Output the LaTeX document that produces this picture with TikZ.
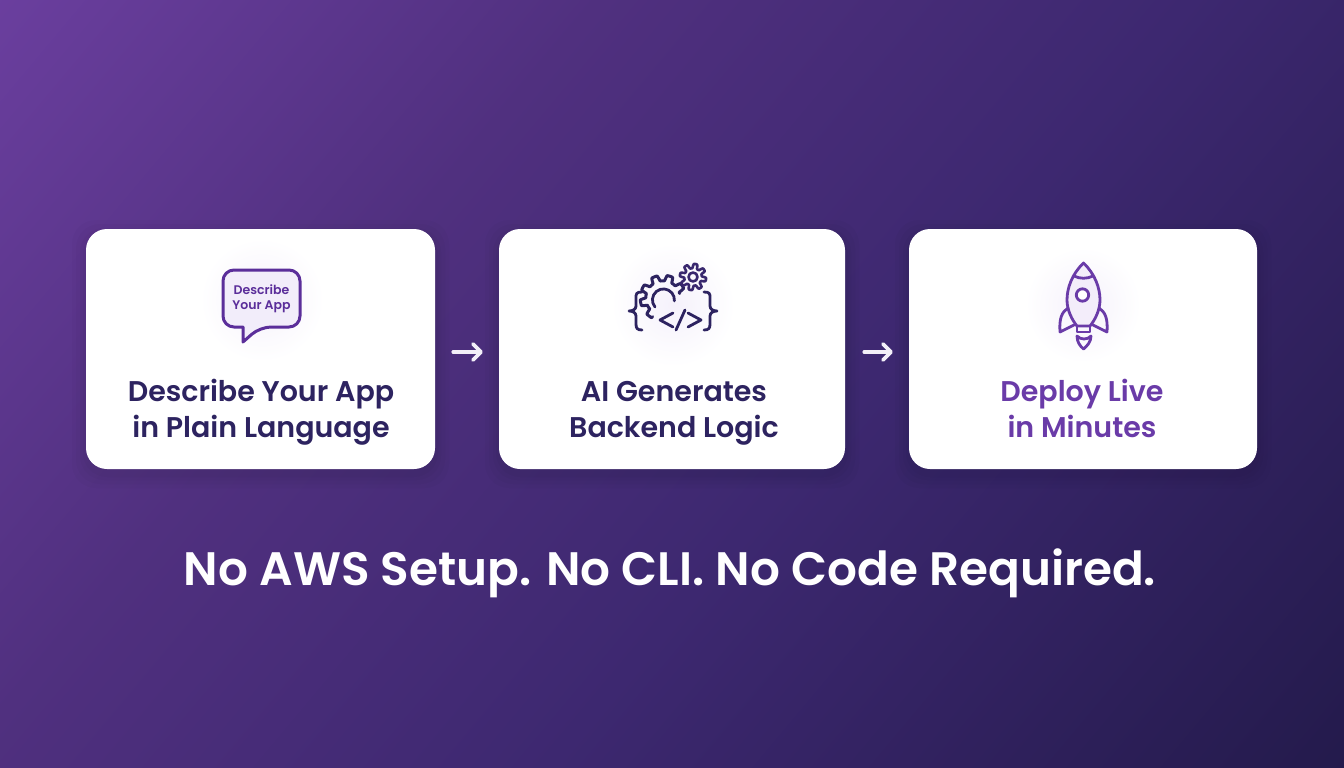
\documentclass[tikz,border=0pt]{standalone}
\usepackage{fontspec}
\setmainfont{Poppins}[UprightFont=* SemiBold,BoldFont=* SemiBold]
\usetikzlibrary{arrows.meta,calc}
\definecolor{navy}{HTML}{2D2360}
\definecolor{violet}{HTML}{6A3BA8}
\definecolor{bubble}{HTML}{5B2E9A}
\definecolor{glow}{HTML}{EDE6F8}
\definecolor{bgA}{HTML}{6B3F9F}
\definecolor{bgB}{HTML}{50307F}
\definecolor{bgM}{HTML}{3D2870}
\definecolor{bgC}{HTML}{231A4B}
\pgfdeclareverticalshading{bgsh}{100bp}{color(0bp)=(bgC); color(14bp)=(bgC); color(43bp)=(bgM); color(64bp)=(bgB); color(86bp)=(bgA); color(100bp)=(bgA)}
\tikzset{
  card/.style={fill=white,rounded corners=21pt,inner sep=0pt,draw=none},
  cardtitle/.style={font=\fontsize{28.5}{36}\selectfont,align=center,inner sep=0pt},
  flow/.style={draw=white!92!violet,line width=3.6pt,line cap=round,-{Straight Barb[length=8pt,width=16pt,round,line width=3.6pt]}},
  iconline/.style={line width=2.8pt,line cap=round,line join=round},
}
\newcommand{\softshadow}[4]{%
  \foreach \g in {14,10,6,3}{
    \fill[black,opacity=0.018,rounded corners=24pt] (#1-\g,#2-\g+5) rectangle (#3+\g,#4+\g+5);
  }}
\begin{document}
\begin{tikzpicture}[x=1pt,y=-1pt]
\useasboundingbox (0,0) rectangle (1344,768);
\path[shading=bgsh,shading angle=50] (0,0) rectangle (1344,768);
% card shadows
\softshadow{86}{229}{435}{469}
\softshadow{499}{229}{845}{469}
\softshadow{909}{229}{1257}{469}
% cards
\node[card,minimum width=349pt,minimum height=240pt] (card1) at (260.5,349) {};
\node[card,minimum width=346pt,minimum height=240pt] (card2) at (672,349) {};
\node[card,minimum width=348pt,minimum height=240pt] (card3) at (1083,349) {};
% connectors
\draw[flow,shorten <=18pt,shorten >=16pt] ([yshift=-3pt]card1.east) -- ([yshift=-3pt]card2.west);
\draw[flow,shorten <=19pt,shorten >=16pt] ([yshift=-3pt]card2.east) -- ([yshift=-3pt]card3.west);
% glows
\shade[inner color=glow!55,outer color=white] (262,300) circle (62);
\shade[inner color=glow!55,outer color=white] (673,305) circle (62);
\shade[inner color=glow!55,outer color=white] (1083,305) circle (58);
% icon 1: speech bubble
\draw[iconline,color=bubble,fill=glow!70,line width=3pt,rounded corners=11pt]
  (223,270) -- (300,270) -- (300,327) -- (260,327) [sharp corners] -- (243,342)  -- (243,327) [rounded corners=11pt] -- (223,327) -- cycle;
\node[inner sep=0pt,align=center,text=bubble,font=\fontsize{12.5}{15}\selectfont] (bubbletext) at (261.5,298.5) {Describe\\Your App};
% icon 2: gears and code
\begin{scope}[iconline,color=navy]
  \draw[line width=3pt] plot[samples=181,domain=119:345] ({663+(20+2.8*max(min(2.5*sin(9*\x+20),1),-1))*cos(\x)},{298+(20+2.8*max(min(2.5*sin(9*\x+20),1),-1))*sin(\x)});
  \draw (655,307) arc[start angle=140,end angle=365,radius=11];
  \draw[navy!80!violet,line width=2.6pt] plot[samples=145,domain=0:360] ({693+(11+2.2*max(min(2*sin(8*\x),1),-1))*cos(\x)},{277+(11+2.2*max(min(2*sin(8*\x),1),-1))*sin(\x)}) -- cycle;
  \draw[navy!80!violet,line width=2.6pt] (693,277) circle (4.5);
  \draw (642,292) .. controls (636,292) and (636,294) .. (636,298) -- (636,306) .. controls (636,309) and (633,311) .. (629,311) .. controls (633,311) and (636,313) .. (636,316) -- (636,324) .. controls (636,328) and (637,330) .. (642,330);
  \draw (704,292) .. controls (710,292) and (710,294) .. (710,298) -- (710,306) .. controls (710,309) and (713,311) .. (717,311) .. controls (713,311) and (710,313) .. (710,316) -- (710,324) .. controls (710,328) and (709,330) .. (704,330);
  \draw (673,313) -- (660,320) -- (673,327);
  \draw (685,310) -- (676,330);
  \draw (688,313) -- (701,320) -- (688,327);
\end{scope}
% icon 3: rocket
\begin{scope}[iconline,color=violet]
  \fill[glow!70] (1083.5,263) .. controls (1072,274) and (1067,288) .. (1067,300) .. controls (1067,310) and (1072,320) .. (1077,326) -- (1090,326) .. controls (1095,320) and (1100,310) .. (1100,300) .. controls (1100,288) and (1095,274) .. (1083.5,263) -- cycle;
  \draw (1083.5,263) .. controls (1072,274) and (1067,288) .. (1067,300) .. controls (1067,310) and (1072,320) .. (1077,326) -- (1090,326) .. controls (1095,320) and (1100,310) .. (1100,300) .. controls (1100,288) and (1095,274) .. (1083.5,263) -- cycle;
  \draw (1074,276) .. controls (1080,279) and (1087,279) .. (1093,276);
  \draw[fill=white] (1082.5,295) circle (6.2);
  \draw (1068,308) .. controls (1062,312) and (1059,318) .. (1060,332) -- (1074,325);
  \draw (1099,308) .. controls (1105,312) and (1108,318) .. (1107,332) -- (1093,325);
  \draw (1077,326) -- (1077,332) -- (1090,332) -- (1090,326);
  \draw (1077,336) .. controls (1077,342) and (1080,346) .. (1083.5,349) .. controls (1087,346) and (1091,342) .. (1091,336) .. controls (1089,338) and (1087,339) .. (1084,339) .. controls (1081,339) and (1079,338) .. (1077,336) -- cycle;
\end{scope}
% titles
\node[cardtitle,text=navy] (t1) at (261,412) {Describe Your App\\in Plain Language};
\node[cardtitle,text=navy] (t2) at (674,413.5) {AI Generates\\Backend Logic};
\node[cardtitle,text=violet] (t3) at (1082,408) {Deploy Live\\in Minutes};
\node[inner sep=0pt,text=white,font=\fontsize{46.9}{54}\selectfont] (foot) at (670,573) {No AWS Setup. No CLI. No Code Required.};
\end{tikzpicture}
\end{document}
